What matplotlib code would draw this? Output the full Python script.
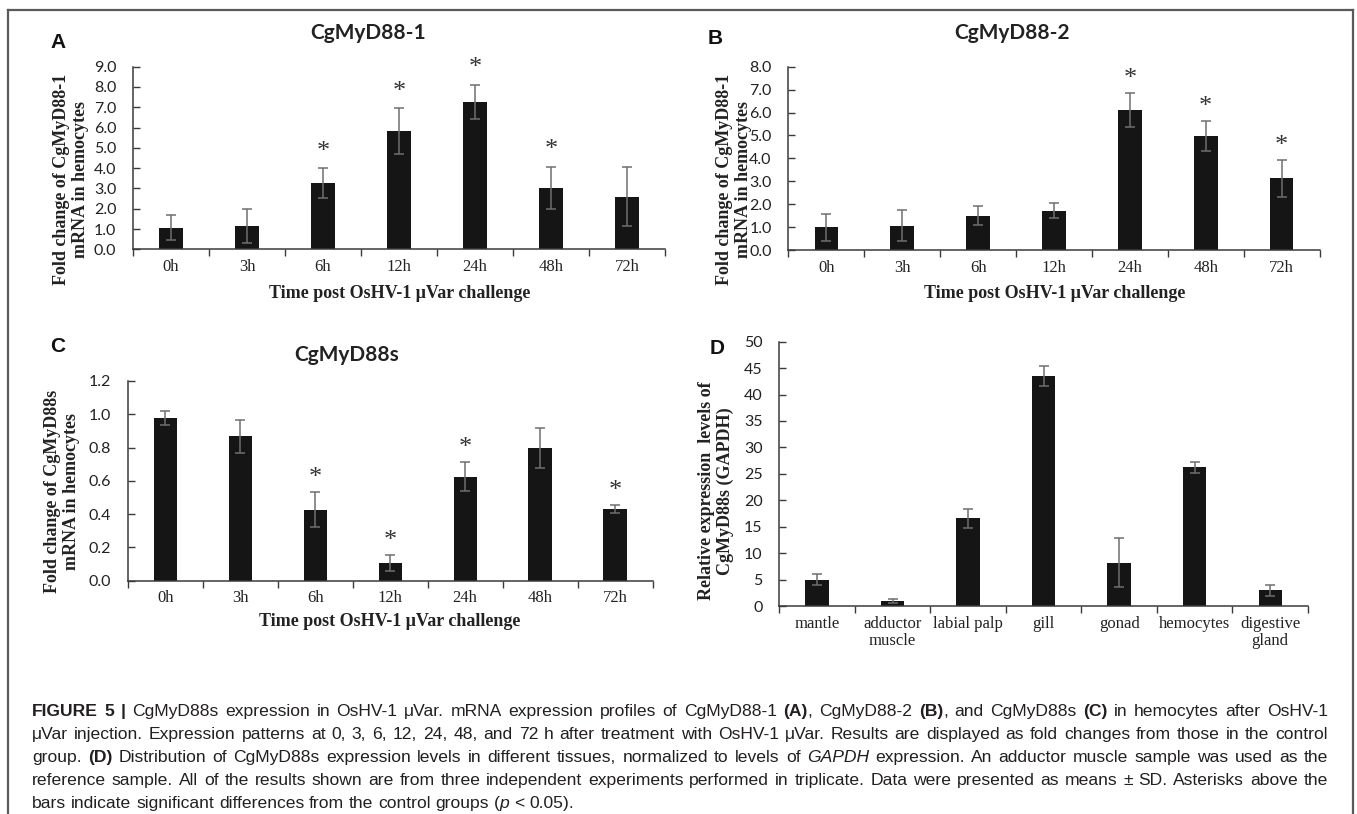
import re

import matplotlib
matplotlib.use("Agg")
import matplotlib.pyplot as plt
import numpy as np
from matplotlib.lines import Line2D

# ---------------- data ----------------
hours = ["0h", "3h", "6h", "12h", "24h", "48h", "72h"]

mean_a = [1.07, 1.17, 3.27, 5.83, 7.27, 3.02, 2.59]
sd_a = [0.62, 0.84, 0.72, 1.12, 0.84, 1.05, 1.45]
star_a = [False, False, True, True, True, True, False]

mean_b = [0.99, 1.06, 1.50, 1.72, 6.12, 4.99, 3.13]
sd_b = [0.58, 0.68, 0.40, 0.32, 0.75, 0.65, 0.81]
star_b = [False, False, False, False, True, True, True]

mean_c = [0.98, 0.868, 0.427, 0.108, 0.625, 0.80, 0.429]
sd_c = [0.042, 0.099, 0.107, 0.047, 0.088, 0.12, 0.023]
star_c = [False, False, True, True, True, False, True]

tissues = ["mantle", "adductor\nmuscle", "labial palp", "gill", "gonad",
           "hemocytes", "digestive\ngland"]
mean_d = [4.98, 0.95, 16.58, 43.57, 8.2, 26.23, 2.96]
sd_d = [1.0, 0.44, 1.8, 1.9, 4.57, 1.1, 1.1]

caption = [
    "**FIGURE 5 |** CgMyD88s expression in OsHV-1 μVar. mRNA expression profiles of "
    "CgMyD88-1 **(A)**, CgMyD88-2 **(B)**, and CgMyD88s **(C)** in hemocytes after OsHV-1",
    "μVar injection. Expression patterns at 0, 3, 6, 12, 24, 48, and 72 h after treatment "
    "with OsHV-1 μVar. Results are displayed as fold changes from those in the control",
    "group. **(D)** Distribution of CgMyD88s expression levels in different tissues, "
    "normalized to levels of _GAPDH_ expression. An adductor muscle sample was used as the",
    "reference sample. All of the results shown are from three independent experiments "
    "performed in triplicate. Data were presented as means ± SD. Asterisks above the",
    "bars indicate significant differences from the control groups (_p_ < 0.05).",
]

# ---------------- style ----------------
W, H = 1357, 814
BAR = "#151515"
ERR = "#6f6f6f"
AXC = "#3a3a3a"
SERIF = "Liberation Serif"
SANS = "Lato"

fig = plt.figure(figsize=(W / 100, H / 100), dpi=100)


def fx(x):
    return x / W


def fy(y):
    return 1 - y / H


def make_axes(left, right, top, bottom):
    return fig.add_axes([fx(left), fy(bottom), (right - left) / W, (bottom - top) / H])


def draw_panel(ax, labels, means, sds, stars, ymax, ystep, fmt, star_pt):
    x = np.arange(len(labels))
    ax.bar(x, means, width=0.31, color=BAR, zorder=2)
    ax.errorbar(x, means, yerr=sds, fmt="none", ecolor=ERR, elinewidth=1.1,
                capsize=3.5, capthick=1.1, zorder=3)
    for xi, m, s, st in zip(x, means, sds, stars):
        if st:
            ax.annotate("*", (xi, m + s), xytext=(0, star_pt), textcoords="offset points",
                        ha="center", va="baseline", fontsize=19, family=SERIF,
                        color="#333333")

    ax.set_xlim(-0.5, len(labels) - 0.5)
    ax.set_ylim(0, ymax)
    yt = np.arange(0, ymax + ystep / 2, ystep)
    ax.set_yticks(yt)
    ax.set_yticklabels([fmt.format(v) for v in yt], family=SANS, fontsize=11.5,
                       color="#222222")
    # ticks between categories, labels at the centres
    ax.set_xticks(np.arange(-0.5, len(labels), 1))
    ax.set_xticks(x, minor=True)
    ax.set_xticklabels(labels, minor=True, family=SERIF, fontsize=12,
                       color="#222222", linespacing=1.1)
    ax.tick_params(axis="x", which="major", direction="out", length=5, width=1,
                   color=AXC, labelbottom=False)
    ax.tick_params(axis="x", which="minor", length=0, pad=7)
    ax.tick_params(axis="y", direction="in", length=5, width=1, color=AXC, pad=12)
    for sp in ["top", "right"]:
        ax.spines[sp].set_visible(False)
    for sp in ["left", "bottom"]:
        ax.spines[sp].set_color(AXC)
        ax.spines[sp].set_linewidth(1.1)


def ylabel(x, y, txt):
    fig.text(fx(x), fy(y), txt, rotation=90, ha="center", va="center",
             multialignment="center", family=SERIF, weight="bold", fontsize=13,
             linespacing=1.1, color="#222222")


def xlabel(x, y, txt):
    fig.text(fx(x), fy(y), txt, ha="center", va="center", family=SERIF,
             weight="bold", fontsize=13, color="#222222")


def title(x, y, txt):
    fig.text(fx(x), fy(y), txt, ha="center", va="center", family=SANS,
             weight="bold", fontsize=15, color="#222222")


def letter(x, y, txt):
    fig.text(fx(x), fy(y), txt, ha="center", va="center", family="Liberation Sans",
             weight="bold", fontsize=15, color="#111111")


# ---------------- panel A ----------------
axA = make_axes(133, 665, 66.7, 249.3)
draw_panel(axA, hours, mean_a, sd_a, star_a, 9, 1, "{:.1f}", 7.5)
letter(58, 42, "A")
title(368, 33, "CgMyD88-1")
ylabel(71, 179, "Fold change of CgMyD88-1\nmRNA in hemocytes")
xlabel(400, 293, "Time post OsHV-1 μVar challenge")

# ---------------- panel B ----------------
axB = make_axes(788.4, 1319.6, 66.7, 250)
draw_panel(axB, hours, mean_b, sd_b, star_b, 8, 1, "{:.1f}", 5.5)
letter(715, 38, "B")
title(1012, 33, "CgMyD88-2")
ylabel(734, 179, "Fold change of CgMyD88-1\nmRNA in hemocytes")
xlabel(1055, 293, "Time post OsHV-1 μVar challenge")

# ---------------- panel C ----------------
axC = make_axes(127.7, 652.6, 381, 580.7)
draw_panel(axC, hours, mean_c, sd_c, star_c, 1.2, 0.2, "{:.1f}", 6)
letter(58, 347, "C")
title(347, 355, "CgMyD88s")
ylabel(62, 491, "Fold change of CgMyD88s\nmRNA in hemocytes")
xlabel(390, 622, "Time post OsHV-1 μVar challenge")

# ---------------- panel D ----------------
axD = make_axes(779.3, 1308, 341.7, 606)
draw_panel(axD, tissues, mean_d, sd_d, [False] * 7, 50, 5, "{:.0f}", 5)
letter(717, 348, "D")
ylabel(716, 491, "Relative expression  levels of\nCgMyD88s (GAPDH)")

# ---------------- frame ----------------
for (x0, y0, x1, y1) in [(8, 9.5, 1353, 9.5), (8, 9.5, 8, 814), (1353, 9.5, 1353, 814)]:
    fig.add_artist(Line2D([fx(x0), fx(x1)], [fy(y0), fy(y1)], color="#5a5a5a", lw=1.6))

# ---------------- caption (justified, mixed styles) ----------------
renderer = fig.canvas.get_renderer()
CAP_FONT = "Liberation Sans"
CAP_COLOR = "#231f20"
cap_left, cap_right = 32, 1328
cap_base = [716, 739, 762, 785, 808]


def style_of(kind):
    if kind == "b":
        return dict(weight="bold", style="normal")
    if kind == "i":
        return dict(weight="normal", style="italic")
    return dict(weight="normal", style="normal")


def text_width(s, kind, size):
    t = fig.text(0, 0, s, fontsize=size, family=CAP_FONT, **style_of(kind))
    w = t.get_window_extent(renderer).width
    t.remove()
    return w


def split_words(line):
    runs = []
    for part in re.split(r"(\*\*.+?\*\*|_.+?_)", line):
        if not part:
            continue
        if part.startswith("**"):
            runs.append((part[2:-2], "b"))
        elif part.startswith("_"):
            runs.append((part[1:-1], "i"))
        else:
            runs.append((part, "n"))
    words = [[]]
    for txt, kind in runs:
        pieces = txt.split(" ")
        for k, p in enumerate(pieces):
            if k > 0:
                words.append([])
            if p:
                words[-1].append((p, kind))
    return [w for w in words if w]


def natural_width(words, size):
    sp = text_width("x x", "n", size) - text_width("xx", "n", size)
    return sum(text_width(p, k, size) for w in words for p, k in w) + sp * (len(words) - 1)


all_words = [split_words(line) for line in caption]

# pick the caption size so the widest full line just fits the text block
base = 10.0
widest = max(natural_width(w, base) for w in all_words[:-1])
cap_size = base * (cap_right - cap_left) / widest * 0.985
space_w = text_width("x x", "n", cap_size) - text_width("xx", "n", cap_size)

for i, words in enumerate(all_words):
    widths = [[text_width(p, k, cap_size) for p, k in w] for w in words]
    total = sum(sum(ws) for ws in widths)
    if i < len(all_words) - 1:
        gap = (cap_right - cap_left - total) / (len(words) - 1)
    else:
        gap = space_w
    xpos = cap_left
    for w, ws in zip(words, widths):
        for (p, k), pw in zip(w, ws):
            fig.text(fx(xpos), fy(cap_base[i]), p, fontsize=cap_size, family=CAP_FONT,
                     color=CAP_COLOR, ha="left", va="baseline", **style_of(k))
            xpos += pw
        xpos += gap

fig.savefig("out.png", dpi=100)
